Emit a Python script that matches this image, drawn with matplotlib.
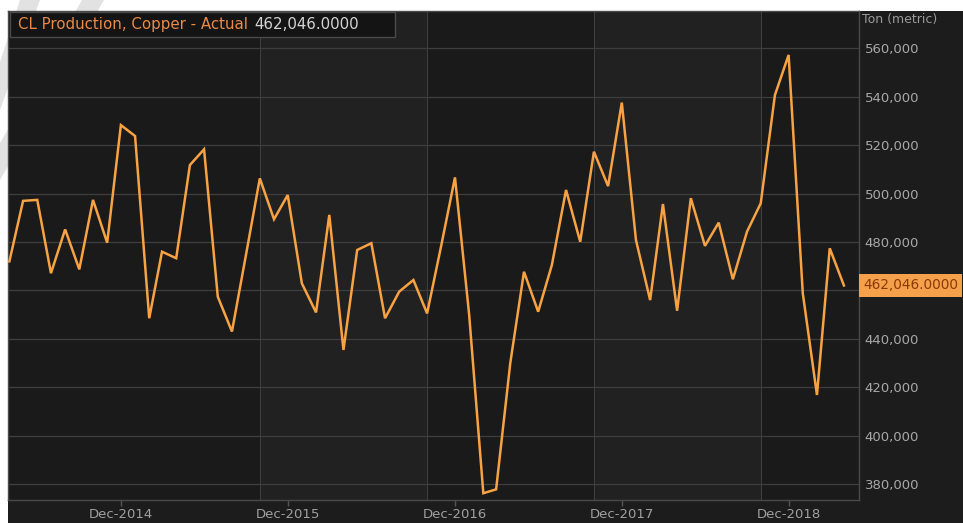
import matplotlib
matplotlib.use("Agg")
import matplotlib.pyplot as plt
import matplotlib.dates as mdates
from matplotlib.patches import Rectangle, Polygon
from matplotlib.ticker import FuncFormatter
import pandas as pd

# monthly copper production, Chile (tons), Apr-2014 .. Apr-2019
dates = pd.date_range("2014-04-01", periods=61, freq="MS")
production = [
    472000, 497000, 497400, 467100, 485200, 468700, 497400, 479700, 528300,
    523800, 448500, 476000, 473300, 511800, 518300, 457400, 443000, 475000,
    506300, 489400, 499400, 462900, 450900, 491200, 435400, 476700, 479500,
    448500, 459500, 464300, 450500, 478600, 506700, 450000, 376200, 377800,
    430000, 467700, 451200, 470500, 501500, 480100, 517300, 503100, 537600,
    480800, 456000, 495700, 451600, 498100, 478400, 488000, 464600, 484300,
    496000, 540700, 557300, 458800, 416800, 477400, 462046,
]
last_value = production[-1]

series_name = "CL Production, Copper - Actual"
unit_label = "Ton (metric)"
tick_dates = pd.to_datetime(["2014-12-01", "2015-12-01", "2016-12-01", "2017-12-01", "2018-12-01"])
band_edges = pd.to_datetime(["2014-03-29", "2015-10-01", "2016-10-01", "2017-10-01", "2018-10-01", "2019-05-04"])
y_ticks = [380000, 400000, 420000, 440000, 460000, 480000, 500000, 520000, 540000, 560000]

W, H = 963, 523
fig = plt.figure(figsize=(W / 100, H / 100), dpi=100, facecolor="white")

# faint grey watermark stripes in the white margin (pixel coords, top-left origin)
for pts in ([(20, 0), (40, 0), (0, 110), (0, 62)], [(82, 0), (104, 0), (0, 180), (0, 143)]):
    fig.patches.append(Polygon([(x / W, 1 - y / H) for x, y in pts], closed=True,
                               transform=fig.transFigure, facecolor="#e2e2e2",
                               edgecolor="none", zorder=-10))

# dark panel behind chart + axis areas
fig.patches.append(Rectangle((8 / W, 0), 1 - 8 / W, 1 - 11 / H, transform=fig.transFigure,
                             facecolor="#1c1c1c", edgecolor="none", zorder=-5))

ax = fig.add_axes([8 / W, 1 - 500 / H, (859 - 8) / W, (500 - 11) / H])
ax.set_facecolor("#1c1c1c")

# alternating yearly bands
for i in range(len(band_edges) - 1):
    c = "#212121" if i % 2 == 1 else "#1a1a1a"
    ax.axvspan(band_edges[i], band_edges[i + 1], color=c, lw=0, zorder=0)
for d in band_edges[1:-1]:
    ax.axvline(d, color="#3e3e3e", lw=0.8, zorder=1)

ax.set_yticks(y_ticks)
ax.grid(axis="y", color="#3e3e3e", lw=0.9, zorder=1)
ax.set_axisbelow(True)

ax.plot(dates, production, color="#f7a243", lw=1.8, zorder=3, solid_joinstyle="miter")

ax.set_xlim(band_edges[0], band_edges[-1])
ax.set_ylim(373400, 575450)

ax.set_xticks(tick_dates)
ax.xaxis.set_major_formatter(mdates.DateFormatter("%b-%Y"))
ax.tick_params(axis="x", colors="#555555", labelcolor="#a0a0a0", labelsize=9.5,
               length=4, width=1, direction="out", pad=2)

ax.yaxis.tick_right()
ax.yaxis.set_major_formatter(FuncFormatter(lambda v, p: f"{int(v):,}"))
ax.tick_params(axis="y", length=0, labelcolor="#a8a8a8", labelsize=9.5, pad=4)

for s in ax.spines.values():
    s.set_color("#4a4a4a")
    s.set_linewidth(1)

# unit label above the y axis
fig.text(862 / W, 1 - 20 / H, unit_label, color="#9a9a9a", fontsize=9, va="center", ha="left")

# last value marker on the axis (hides the 460,000 label like the original)
ax.annotate(f"{last_value:,.4f}", xy=(1, last_value), xycoords=("axes fraction", "data"),
            xytext=(4, 0), textcoords="offset pixels", ha="left", va="center",
            fontsize=9.8, color="#8a3a08",
            bbox=dict(boxstyle="square,pad=0.3", fc="#f5a04a", ec="none"),
            annotation_clip=False, zorder=5)
for lab in ax.get_yticklabels():
    if lab.get_text() == "460,000":
        lab.set_visible(False)

# legend box top left
fig.patches.append(Rectangle((10 / W, 1 - 37 / H), 385 / W, 25 / H, transform=fig.transFigure,
                             facecolor="#141414", edgecolor="#4a4a4a", lw=1, zorder=5))
t1 = fig.text(18 / W, 1 - 24.5 / H, series_name, color="#e98a48", fontsize=10.8,
              va="center", ha="left", zorder=6)
fig.canvas.draw()
bb = t1.get_window_extent()
fig.text((bb.x1 + 6) / W, 1 - 24.5 / H, f"{last_value:,.4f}", color="#d4d4d4",
         fontsize=10.8, va="center", ha="left", zorder=6)

fig.savefig("out.png", dpi=100, facecolor="white")
